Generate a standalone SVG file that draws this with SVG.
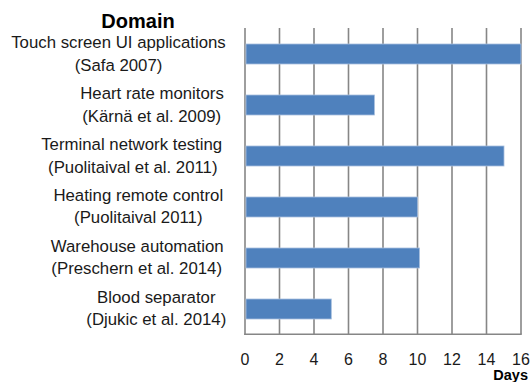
<svg xmlns="http://www.w3.org/2000/svg" width="530" height="382" viewBox="0 0 530 382">
<style>
.lbl{font-family:"Liberation Sans",Arial,sans-serif;font-size:16.8px;fill:#1a1a1a;text-anchor:middle}
.tick{font-family:"Liberation Sans",Arial,sans-serif;font-size:16px;fill:#1a1a1a;text-anchor:middle}
.grid{stroke:#868686;stroke-width:1.6;fill:none}
.bar{fill:#4F81BD;stroke:#A7BFDE;stroke-width:0.8}
.bold{font-family:"Liberation Sans",Arial,sans-serif;font-weight:bold;fill:#000}
</style>
<rect width="530" height="382" fill="#fff"/>
<g id="grid">
<line class="grid" x1="279.5" y1="28" x2="279.5" y2="334"/>
<line class="grid" x1="314" y1="28" x2="314" y2="334"/>
<line class="grid" x1="348.5" y1="28" x2="348.5" y2="334"/>
<line class="grid" x1="383" y1="28" x2="383" y2="334"/>
<line class="grid" x1="417.5" y1="28" x2="417.5" y2="334"/>
<line class="grid" x1="452" y1="28" x2="452" y2="334"/>
<line class="grid" x1="486.5" y1="28" x2="486.5" y2="334"/>
<line class="grid" x1="521" y1="28" x2="521" y2="334"/>
<line class="grid" x1="245" y1="28" x2="245" y2="335"/>
<line class="grid" x1="244.2" y1="334.2" x2="521.8" y2="334.2"/>
</g>
<g id="bars">
<rect class="bar" x="246" y="44" width="275" height="20"/>
<rect class="bar" x="246" y="95" width="128.4" height="20"/>
<rect class="bar" x="246" y="146" width="258" height="20"/>
<rect class="bar" x="246" y="197" width="171.5" height="20"/>
<rect class="bar" x="246" y="248" width="173.5" height="20"/>
<rect class="bar" x="246" y="299" width="85.3" height="20"/>
</g>
<g id="labels">
<text class="bold" x="138" y="28" font-size="20" text-anchor="middle">Domain</text>
<text class="lbl" x="118.5" y="47.5">Touch screen UI applications</text>
<text class="lbl" x="118.5" y="70.5">(Safa 2007)</text>
<text class="lbl" x="152" y="98.7">Heart rate monitors</text>
<text class="lbl" x="151.7" y="121.5">(Kärnä et al. 2009)</text>
<text class="lbl" x="131.7" y="149.5">Terminal network testing</text>
<text class="lbl" x="132.8" y="172.5">(Puolitaival et al. 2011)</text>
<text class="lbl" x="138.3" y="200.5">Heating remote control</text>
<text class="lbl" x="138.3" y="223.3">(Puolitaival 2011)</text>
<text class="lbl" x="137.2" y="251.5">Warehouse automation</text>
<text class="lbl" x="136.7" y="274.3">(Preschern et al. 2014)</text>
<text class="lbl" x="156.3" y="302.5">Blood separator</text>
<text class="lbl" x="156.3" y="325.3">(Djukic et al. 2014)</text>
</g>
<g id="ticks">
<text class="tick" x="245" y="364.5">0</text>
<text class="tick" x="279.5" y="364.5">2</text>
<text class="tick" x="314" y="364.5">4</text>
<text class="tick" x="348.5" y="364.5">6</text>
<text class="tick" x="383" y="364.5">8</text>
<text class="tick" x="417.5" y="364.5">10</text>
<text class="tick" x="452" y="364.5">12</text>
<text class="tick" x="486.5" y="364.5">14</text>
<text class="tick" x="521" y="364.5">16</text>
<text class="bold" x="528" y="380" font-size="14.5" text-anchor="end">Days</text>
</g>
</svg>
